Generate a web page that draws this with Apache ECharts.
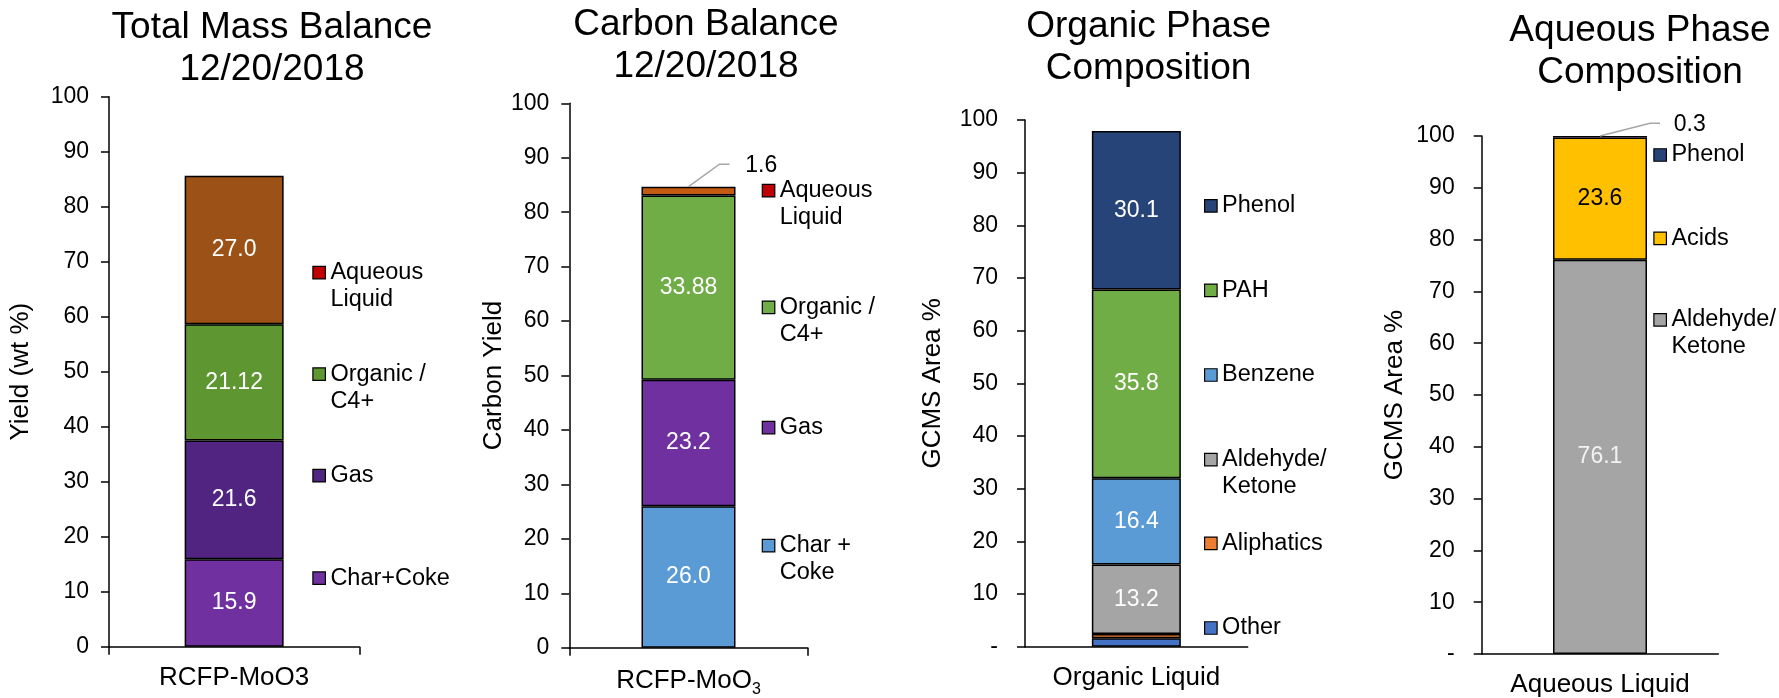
<!DOCTYPE html>
<html><head><meta charset="utf-8">
<script src="https://cdn.jsdelivr.net/npm/echarts@6/dist/echarts.min.js"></script>
<style>html,body{margin:0;padding:0;background:#fff}#c{width:1779px;height:698px}</style>
</head><body><div id="c"></div>
<script>
// ---------------- DATA ----------------
const massCategories = ['RCFP-MoO3'];
const massSeriesNames = ['Char+Coke', 'Gas', 'Organic /\nC4+', 'Aqueous\nLiquid'];
const massValues = [15.9, 21.6, 21.12, 27.0];

const carbonCategories = ['RCFP-MoO3'];
const carbonSeriesNames = ['Char +\nCoke', 'Gas', 'Organic /\nC4+', 'Aqueous\nLiquid'];
const carbonValues = [26.0, 23.2, 33.88, 1.6];

const organicCategories = ['Organic Liquid'];
const organicSeriesNames = ['Other', 'Aliphatics', 'Aldehyde/\nKetone', 'Benzene', 'PAH', 'Phenol'];
const organicValues = [1.6, 0.8, 13.2, 16.4, 35.8, 30.1];

const aqueousCategories = ['Aqueous Liquid'];
const aqueousSeriesNames = ['Aldehyde/\nKetone', 'Acids', 'Phenol'];
const aqueousValues = [76.1, 23.6, 0.3];

const yAxisMin = 0, yAxisMax = 100, yAxisStep = 10;

// ---------------- STYLE / LAYOUT ----------------
const FONT = "'Liberation Sans', Arial, Helvetica, sans-serif";
function fmt(v) { return Number.isInteger(Math.round(v * 1000) / 100) ? v.toFixed(1) : v.toFixed(2); }
const W = '#FFFFFF', K = '#000000';

const panels = [
  { title: 'Total Mass Balance\n12/20/2018', cx: 272, titleTop: 6.7,
    grid: { left: 109, top: 96.7, width: 250.3, height: 550 },
    yName: 'Yield (wt %)', nameGap: 75, labelMargin: 20, dashZero: false, xTicks: true, subscript: false,
    barWidth: 99, cats: massCategories, names: massSeriesNames, values: massValues,
    colors: ['#7030A0', '#512481', '#5E9732', '#9C5216'],
    labelMode: ['in', 'in', 'in', 'in'], labelColors: [W, W, W, W],
    legendX: 312.3, legendY: [578.2, 475.7, 374.2, 272.6],
    legendColors: [null, null, null, '#C00000'] },
  { title: 'Carbon Balance\n12/20/2018', cx: 706, titleTop: 4,
    grid: { left: 569.3, top: 103.3, width: 238.4, height: 544.4 },
    yName: 'Carbon Yield', nameGap: 57, labelMargin: 20, dashZero: false, xTicks: true, subscript: true,
    barWidth: 94, cats: carbonCategories, names: carbonSeriesNames, values: carbonValues,
    colors: ['#5B9BD5', '#7030A0', '#70AD47', '#C55A11'],
    labelMode: ['in', 'in', 'in', 'out'], labelColors: [W, W, W, K], outOffset: [72.7, -5],
    leader: [[31, -22.5], [41, -22.5]],
    legendX: 761.7, legendY: [545.7, 427.6, 307.3, 190.6],
    legendColors: [null, null, null, '#C00000'] },
  { title: 'Organic Phase\nComposition', cx: 1148.6, titleTop: 5.4,
    grid: { left: 1025, top: 120, width: 222.7, height: 526.7 },
    yName: 'GCMS Area %', nameGap: 79, labelMargin: 27, dashZero: true, xTicks: false, subscript: false,
    barWidth: 89, cats: organicCategories, names: organicSeriesNames, values: organicValues,
    colors: ['#4472C4', '#ED7D31', '#A5A5A5', '#5B9BD5', '#70AD47', '#264478'],
    labelMode: ['none', 'none', 'in', 'in', 'in', 'in'], labelColors: [W, W, W, W, W, W],
    legendX: 1204, legendY: [628, 543.4, 459.7, 375, 290.4, 205.8],
    legendColors: [null, null, null, null, null, null] },
  { title: 'Aqueous Phase\nComposition', cx: 1640, titleTop: 9.3,
    grid: { left: 1481.7, top: 136, width: 236.6, height: 518.3 },
    yName: 'GCMS Area %', nameGap: 74, labelMargin: 27, dashZero: true, xTicks: false, subscript: false,
    barWidth: 94, cats: aqueousCategories, names: aqueousSeriesNames, values: aqueousValues,
    colors: ['#A5A5A5', '#FFC000', '#264478'],
    labelMode: ['in', 'in', 'out'], labelColors: ['#F2F2F2', K, K], outOffset: [89.7, 5.5],
    leader: [[50, -12.7], [60, -12.7]],
    legendX: 1653.3, legendY: [319.8, 238.3, 155],
    legendColors: [null, null, null] }
];

const option = {
  animation: false,
  textStyle: { fontFamily: FONT },
  title: [], grid: [], xAxis: [], yAxis: [], legend: [], series: []
};

const LH = 27;
panels.forEach((p, i) => {
  option.title.push({
    text: p.title, left: p.cx, top: p.titleTop, textAlign: 'center', padding: 0,
    textStyle: { fontSize: 37, fontWeight: 'normal', lineHeight: 42, color: '#000', fontFamily: FONT }
  });
  option.grid.push(Object.assign({ containLabel: false }, p.grid));
  option.xAxis.push({
    type: 'category', gridIndex: i, data: p.cats, boundaryGap: true,
    axisLine: { show: true, lineStyle: { color: '#000', width: 1.5 } },
    axisTick: { show: p.xTicks, length: 8, alignWithLabel: false, lineStyle: { color: '#000', width: 1.5 } },
    axisLabel: {
      color: '#000', fontSize: 26, lineHeight: 26, margin: 18, fontFamily: FONT,
      formatter: p.subscript ? (v => '{m|' + v.replace(/(\d)$/, '}{s|$1}')) : (v => v),
      rich: {
        m: { fontSize: 26, lineHeight: 30, color: '#000', fontFamily: FONT },
        s: { fontSize: 16, lineHeight: 16, color: '#000', fontFamily: FONT, verticalAlign: 'top', padding: [16, 0, 0, 0] }
      }
    },
    splitLine: { show: false }
  });
  option.yAxis.push({
    type: 'value', gridIndex: i, min: yAxisMin, max: yAxisMax, interval: yAxisStep,
    name: p.yName, nameLocation: 'middle', nameGap: p.nameGap,
    nameTextStyle: { fontSize: 26, lineHeight: 26, color: '#000', fontFamily: FONT },
    axisLine: { show: true, lineStyle: { color: '#000', width: 1.5 } },
    axisTick: { show: true, length: 8, lineStyle: { color: '#000', width: 1.5 } },
    axisLabel: { color: '#000', fontSize: 23, margin: p.labelMargin, fontFamily: FONT,
      formatter: v => (p.dashZero && v === 0) ? '-' : String(v) },
    splitLine: { show: false }
  });
  let total = 0;
  p.names.forEach((n, k) => {
    total += p.values[k];
    const mode = p.labelMode[k];
    let label;
    if (mode === 'in') {
      label = { show: true, position: 'inside', color: p.labelColors[k], fontSize: 23, fontFamily: FONT, formatter: o => fmt(o.value) };
    } else if (mode === 'out') {
      label = { show: true, position: 'top', distance: 5, offset: p.outOffset, color: p.labelColors[k], fontSize: 23, fontFamily: FONT, formatter: o => fmt(o.value) };
    } else {
      label = { show: false };
    }
    option.series.push({
      type: 'bar', name: n, xAxisIndex: i, yAxisIndex: i, stack: 'stack' + i,
      barWidth: p.barWidth, data: [p.values[k]],
      itemStyle: { color: p.colors[k], borderColor: '#000', borderWidth: 1.5 },
      label: label, emphasis: { disabled: true }
    });
    const two = n.indexOf('\n') >= 0;
    option.legend.push({
      show: true, orient: 'vertical', left: p.legendX, top: p.legendY[k] - (two ? LH * 1.5 : LH * 0.5),
      padding: 0, icon: 'rect', itemWidth: 12.5, itemHeight: 12.5, selectedMode: false,
      formatter: name => (name.indexOf('\n') >= 0 ? '\n' + name : name),
      data: [{ name: n, itemStyle: { color: p.legendColors[k] || p.colors[k], borderColor: '#000', borderWidth: 1.2 } }],
      textStyle: { fontSize: 23.5, color: '#000', lineHeight: LH, fontFamily: FONT }
    });
  });
  if (p.leader) {
    const lead = p.leader;
    option.series.push({
      type: 'custom', xAxisIndex: i, yAxisIndex: i, silent: true, z: 5,
      data: [[0, total]],
      renderItem: (params, api) => {
        const pt = api.coord([api.value(0), api.value(1)]);
        return {
          type: 'polyline',
          shape: { points: [pt, [pt[0] + lead[0][0], pt[1] + lead[0][1]], [pt[0] + lead[1][0], pt[1] + lead[1][1]]] },
          style: { stroke: '#A6A6A6', lineWidth: 1.5, fill: null }
        };
      }
    });
  }
});

const chart = echarts.init(document.getElementById('c'));
chart.setOption(option);
</script>
</body></html>
